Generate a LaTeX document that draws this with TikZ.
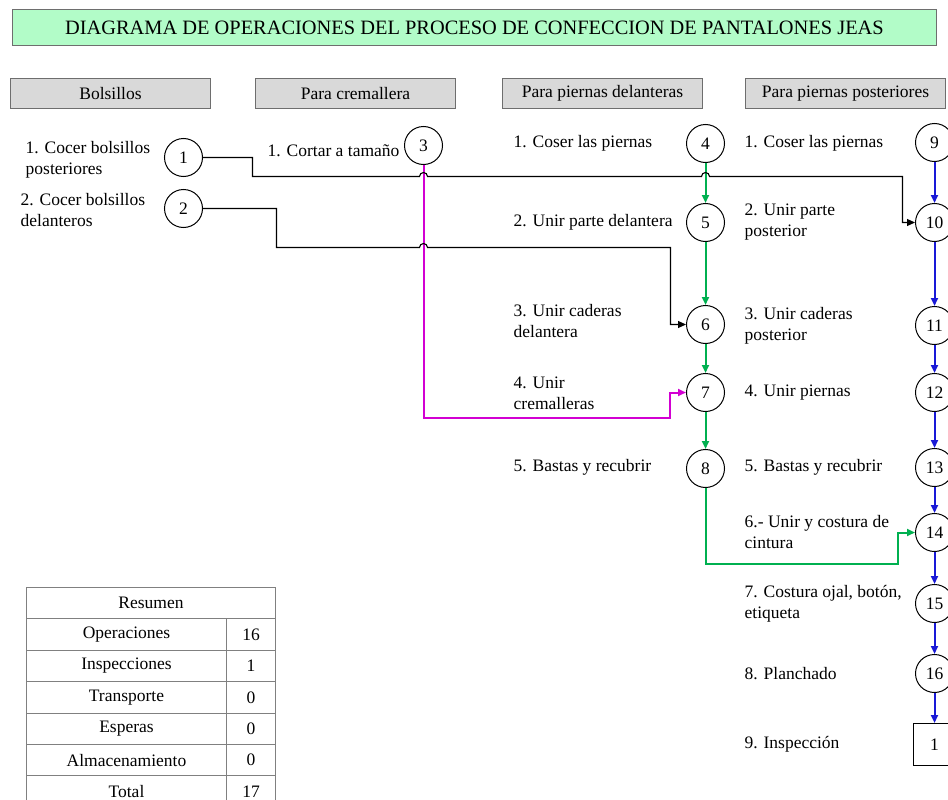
\documentclass[tikz,border=0pt]{standalone}
\usepackage{fontspec}
\setmainfont{Liberation Serif}
\usetikzlibrary{arrows.meta}

\definecolor{titlefill}{RGB}{178,252,200}
\definecolor{hdrfill}{RGB}{217,217,217}
\definecolor{hdrline}{RGB}{110,110,110}
\definecolor{flowgreen}{RGB}{0,176,80}
\definecolor{flowblue}{RGB}{25,25,215}
\definecolor{flowmag}{RGB}{210,0,210}
\definecolor{tabline}{RGB}{128,128,128}

\tikzset{
  txt/.style={font=\fontsize{17.5bp}{21bp}\selectfont},
  titlebox/.style={draw=hdrline, fill=titlefill, line width=1bp,
    minimum width=924bp, minimum height=36bp, inner sep=0pt,
    font=\fontsize{20.4bp}{24bp}\selectfont},
  hdr/.style={txt, draw=hdrline, fill=hdrfill, line width=1bp,
    minimum width=200bp, minimum height=30bp, inner sep=0pt},
  op/.style={txt, circle, draw, line width=1bp, fill=white,
    minimum size=38bp, inner sep=0pt},
  insp/.style={txt, rectangle, draw, line width=1bp, fill=white,
    minimum size=42bp, inner sep=0pt},
  lbl/.style={txt, anchor=west, inner sep=0pt, align=left},
  tip/.style={-{Triangle[length=8bp,width=7bp]}},
  flow/.style={line width=2bp, tip},
  blackflow/.style={flow, color=black, line width=1.1bp},
  greenflow/.style={flow, color=flowgreen},
  blueflow/.style={flow, color=flowblue},
  magflow/.style={flow, color=flowmag},
  cell/.style={txt, draw=tabline, line width=1bp, minimum height=31.4bp,
    inner sep=0pt, outer sep=0pt},
  hop/.style={start angle=180, end angle=0, radius=4bp}
}

\begin{document}
\begin{tikzpicture}[x=1bp,y=-1bp]
\clip (0,0) rectangle (948,800);
\fill[white] (0,0) rectangle (948,800);

\begin{scope}[shift={(0.5,0.5)}]
% title and column headers
\node[titlebox] (title) at (474,27)
  {DIAGRAMA DE OPERACIONES DEL PROCESO DE CONFECCION DE PANTALONES JEAS};
\node[hdr] (hBol) at (110,93) {Bolsillos};
\node[hdr] (hCre) at (355,93) {Para cremallera};
\node[hdr] (hDel) at (602,93) {Para piernas delanteras};
\node[hdr] (hPos) at (845,93) {Para piernas posteriores};

% bolsillos
\node[op] (n1) at (183,157) {1};
\node[op] (n2) at (183,208) {2};
\node[lbl] (l1) at (25,159) {1. Cocer bolsillos\\posteriores};
\node[lbl] (l2) at (20,210) {2. Cocer bolsillos\\delanteros};

% cremallera
\node[op] (n3) at (423,145) {3};
\node[lbl] (l3) at (267,150) {1. Cortar a tamaño};

% piernas delanteras
\node[op] (n4) at (705,143) {4};
\node[op] (n5) at (705,222) {5};
\node[op] (n6) at (705,324) {6};
\node[op] (n7) at (705,392) {7};
\node[op] (n8) at (705,468) {8};
\node[lbl] (l4) at (513,143) {1. Coser las piernas};
\node[lbl] (l5) at (513,222) {2. Unir parte delantera};
\node[lbl] (l6) at (513,321) {3. Unir caderas\\delantera};
\node[lbl] (l7) at (513,393) {4. Unir\\cremalleras};
\node[lbl] (l8) at (513,467) {5. Bastas y recubrir};

% piernas posteriores
\node[op] (n9)  at (934,142) {9};
\node[op] (n10) at (934,222) {10};
\node[op] (n11) at (934,325) {11};
\node[op] (n12) at (934,392) {12};
\node[op] (n13) at (934,467) {13};
\node[op] (n14) at (934,532) {14};
\node[op] (n15) at (934,603) {15};
\node[op] (n16) at (934,673) {16};
\node[insp] (i1) at (934,744) {1};
\node[lbl] (l9)  at (744,143) {1. Coser las piernas};
\node[lbl] (l10) at (744,222) {2. Unir parte\\posterior};
\node[lbl] (l11) at (744,325) {3. Unir caderas\\posterior};
\node[lbl] (l12) at (744,392) {4. Unir piernas};
\node[lbl] (l13) at (744,467) {5. Bastas y recubrir};
\node[lbl] (l14) at (744,532) {6.- Unir y costura de\\cintura};
\node[lbl] (l15) at (744,603) {7. Costura ojal, botón,\\etiqueta};
\node[lbl] (l16) at (744,673) {8. Planchado};
\node[lbl] (l17) at (744,744) {9. Inspección};

% cremallera feeding operation 7
\draw[magflow] (n3.south) |- (669,417) |- (n7.west);

% front legs sequence
\draw[greenflow] (n4) -- (n5);
\draw[greenflow] (n5) -- (n6);
\draw[greenflow] (n6) -- (n7);
\draw[greenflow] (n7) -- (n8);
\draw[greenflow] (n8.south) |- (897,563) |- (n14.west);

% back legs sequence
\draw[blueflow] (n9) -- (n10);
\draw[blueflow] (n10) -- (n11);
\draw[blueflow] (n11) -- (n12);
\draw[blueflow] (n12) -- (n13);
\draw[blueflow] (n13) -- (n14);
\draw[blueflow] (n14) -- (n15);
\draw[blueflow] (n15) -- (n16);
\draw[blueflow] (n16) -- (i1);

% pockets, with hops over crossing lines
\draw[blackflow] (n1.east) -| (252,176) -- (419,176) arc[hop]
  -- (701,176) arc[hop] -- (902,176) |- (n10.west);
\draw[blackflow] (n2.east) -| (276,247) -- (419,247) arc[hop]
  -- (670,247) |- (n6.west);

% summary table
\node[cell, minimum width=249bp] (tHead) at (150.5,602.7) {Resumen};
\node[cell, minimum width=200bp] (tA1) at (126,634.1) {Operaciones};
\node[cell, minimum width=49bp]  (tB1) at (250.5,634.1) {16};
\node[cell, minimum width=200bp] (tA2) at (126,665.5) {Inspecciones};
\node[cell, minimum width=49bp]  (tB2) at (250.5,665.5) {1};
\node[cell, minimum width=200bp] (tA3) at (126,696.9) {Transporte};
\node[cell, minimum width=49bp]  (tB3) at (250.5,696.9) {0};
\node[cell, minimum width=200bp] (tA4) at (126,728.3) {Esperas};
\node[cell, minimum width=49bp]  (tB4) at (250.5,728.3) {0};
\node[cell, minimum width=200bp] (tA5) at (126,759.7) {Almacenamiento};
\node[cell, minimum width=49bp]  (tB5) at (250.5,759.7) {0};
\node[cell, minimum width=200bp] (tA6) at (126,791.1) {Total};
\node[cell, minimum width=49bp]  (tB6) at (250.5,791.1) {17};
\end{scope}
\end{tikzpicture}
\end{document}
